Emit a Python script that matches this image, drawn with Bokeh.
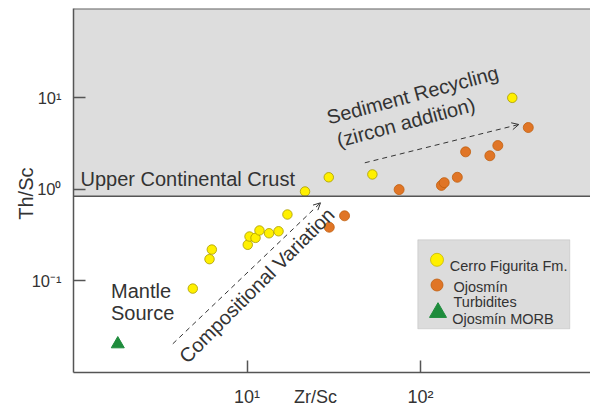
import math
from bokeh.plotting import figure
from bokeh.models import (Range1d, FixedTicker, BoxAnnotation, Span, Label, Arrow, OpenHead,
                          LogAxis)
from bokeh.embed import file_html
from bokeh.resources import INLINE

# ---------------- data ----------------
cfm_zr_sc = [4.87, 6.08, 6.27, 10.1, 10.34, 11.2, 11.8, 13.4, 15.2, 17.1, 21.6, 29.6, 52.8, 338]
cfm_th_sc = [0.082, 0.172, 0.219, 0.247, 0.304, 0.294, 0.354, 0.330, 0.347, 0.529, 0.944, 1.35, 1.45, 9.97]

turb_zr_sc = [29.8, 36.5, 75.3, 132, 137, 163, 182, 251, 279, 418]
turb_th_sc = [0.384, 0.512, 0.99, 1.10, 1.18, 1.35, 2.56, 2.32, 3.0, 4.72]

morb_zr_sc = [1.80]
morb_th_sc = [0.0203]

ucc_th_sc = 0.838

x_ticks = [10, 100]
x_tick_labels = ["10\u00b9", "10\u00b2"]
y_ticks = [0.1, 1, 10]
y_tick_labels = ["10\u207b\u00b9", "10\u2070", "10\u00b9"]
x_title = "Zr/Sc"
y_title = "Th/Sc"

legend_labels = ["Cerro Figurita Fm.", "Ojosmín", "Turbidites", "Ojosmín MORB"]

# ---------------- figure ----------------
W, H = 590, 414
FL, FR, FT, FB = 73, 590, 8, 372  # frame edges in canvas pixels
X0, X1 = 1.0, 954.6
Y0, Y1 = 0.009925, 94.4


def dx(px):
    lx0, lx1 = math.log10(X0), math.log10(X1)
    return 10 ** (lx0 + (px - FL) / (FR - FL) * (lx1 - lx0))


def dy(py):
    ly0, ly1 = math.log10(Y0), math.log10(Y1)
    return 10 ** (ly0 + (FB - py) / (FB - FT) * (ly1 - ly0))


FONT = "Liberation Sans"
TXT = "#333333"
AX = "#555555"

p = figure(width=W, height=H, x_axis_type="log", y_axis_type="log",
           x_range=Range1d(X0, X1), y_range=Range1d(Y0, Y1),
           output_backend="svg", toolbar_location=None,
           min_border_left=FL, min_border_right=W - FR, min_border_top=FT,
           min_border_bottom=H - FB)
p.outline_line_color = None
p.grid.visible = False
p.background_fill_color = "white"
p.border_fill_color = "white"

# main axes: lines and inward ticks
xa, ya = p.xaxis[0], p.yaxis[0]
xa.ticker = FixedTicker(ticks=x_ticks)
ya.ticker = FixedTicker(ticks=y_ticks)
for ax in (xa, ya):
    ax.major_tick_in = 12
    ax.major_tick_out = 0
    ax.minor_tick_line_color = None
    ax.axis_line_color = AX
    ax.axis_line_width = 1.5
    ax.major_tick_line_color = AX
    ax.major_tick_line_width = 1.5
    ax.major_label_text_font = FONT
    ax.major_label_text_color = TXT
ya.major_label_overrides = {t: s for t, s in zip(y_ticks, y_tick_labels)}
ya.major_label_text_font_size = "16.5px"
ya.major_label_standoff = 12
# labels of the main x axis are drawn by the label row below
xa.major_label_overrides = {t: "." for t in x_ticks}
xa.major_label_text_font_size = "1px"
xa.major_label_text_color = None
xa.major_label_standoff = 0

# x tick labels and the x title share one label row
x_title_pos = dx(315)
xl = LogAxis(ticker=FixedTicker(ticks=x_ticks + [x_title_pos]),
             major_label_overrides={**{t: s for t, s in zip(x_ticks, x_tick_labels)},
                                    x_title_pos: x_title},
             axis_line_color=None, major_tick_line_color=None, minor_tick_line_color=None,
             major_tick_in=0, major_tick_out=0, major_label_standoff=14,
             major_label_text_font=FONT, major_label_text_font_size="18px",
             major_label_text_color=TXT)
p.add_layout(xl, "below")

# y title as a rotated label on its own axis row
y_title_pos = dy(167)
yl = LogAxis(ticker=FixedTicker(ticks=[y_title_pos]),
             major_label_overrides={y_title_pos: y_title},
             major_label_orientation=math.pi / 2,
             axis_line_color=None, major_tick_line_color=None, minor_tick_line_color=None,
             major_tick_in=0, major_tick_out=0, major_label_standoff=3,
             major_label_text_font=FONT, major_label_text_font_size="20px",
             major_label_text_color=TXT)
p.add_layout(yl, "left")

# upper continental crust field
p.add_layout(BoxAnnotation(bottom=ucc_th_sc, fill_color="#dddddd", fill_alpha=1.0,
                           line_color=None, level="underlay"))
p.add_layout(Span(location=ucc_th_sc, dimension="width", line_color=AX, line_width=1.5))
p.add_layout(Span(location=Y1, dimension="width", line_color="#666666", line_width=2))

# data points
p.scatter(cfm_zr_sc, cfm_th_sc, marker="circle", size=9.5, fill_color="#fff000",
          line_color="#a89a00", line_width=0.8)
p.scatter(turb_zr_sc, turb_th_sc, marker="circle", size=10, fill_color="#e07526",
          line_color="#c0600f", line_width=0.8)
p.scatter(morb_zr_sc, morb_th_sc, marker="triangle", size=13, fill_color="#1e8c3c",
          line_color="#1e8c3c")

# arrows
p.add_layout(Arrow(end=OpenHead(size=7, line_color=TXT, line_width=1),
                   x_start=dx(172.3), y_start=dy(343.3), x_end=dx(320), y_end=dy(202.3),
                   line_color=TXT, line_width=1, line_dash="5 4"))
p.add_layout(Arrow(end=OpenHead(size=7, line_color=TXT, line_width=1),
                   x_start=dx(364.3), y_start=dy(162.3), x_end=dx(518.3), y_end=dy(124),
                   line_color=TXT, line_width=1, line_dash="5 4"))


def lab(px, py, text, size="20px", angle=0, align="left", baseline="alphabetic"):
    p.add_layout(Label(x=dx(px), y=dy(py), text=text, text_font=FONT, text_font_size=size,
                       text_color=TXT, angle=angle, angle_units="deg",
                       text_align=align, text_baseline=baseline))


lab(80, 178, "Upper Continental Crust")
lab(110.5, 290.5, "Mantle")
lab(110.5, 312.7, "Source")
lab(326.7, 117.3, "Sediment Recycling", angle=15)
lab(336.7, 140.3, "(zircon addition)", angle=15)
lab(182, 359, "Compositional Variation", angle=45)

# legend box
p.add_layout(BoxAnnotation(left=dx(417.3), right=dx(569.3), top=dy(239.3), bottom=dy(328.3),
                           fill_color="#dcdcdc", fill_alpha=1.0, line_color="#9a9a9a",
                           line_width=1, level="underlay"))
p.scatter([dx(436.5)], [dy(259.3)], marker="circle", size=13, fill_color="#fff000",
          line_color="#c8b800", line_width=0.8)
p.scatter([dx(436.5)], [dy(284.5)], marker="circle", size=12, fill_color="#e07526",
          line_color="#c0600f", line_width=0.8)
p.scatter([dx(437.5)], [dy(312)], marker="triangle", size=17, fill_color="#1e8c3c",
          line_color="#1e8c3c")
lab(449.3, 265, legend_labels[0], size="14.5px")
lab(453, 286.7, legend_labels[1], size="14.5px")
lab(453, 301, legend_labels[2], size="14.5px")
lab(451.7, 318, legend_labels[3], size="14.5px")

open("out.html", "w").write(file_html(p, INLINE))
